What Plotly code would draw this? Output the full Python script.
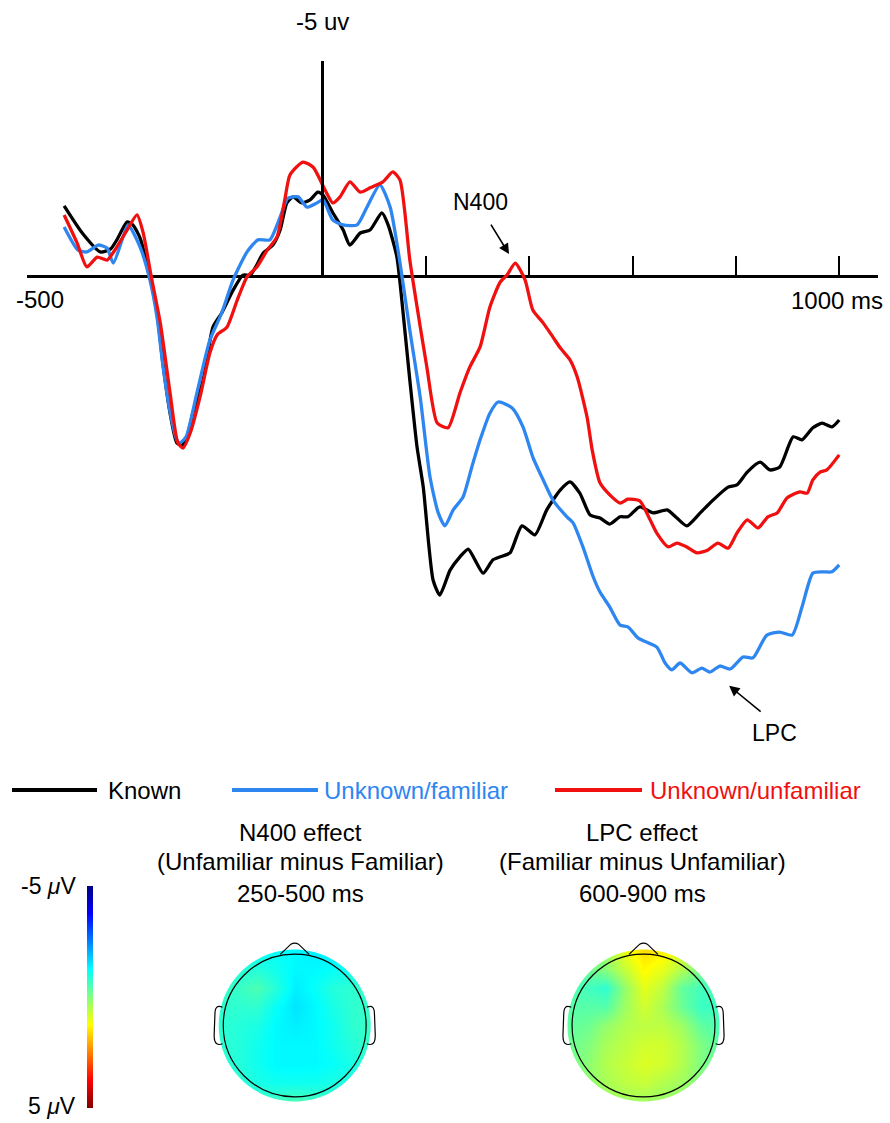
import math
import plotly.graph_objects as go

# ---------------- ERP waveform data (ms, microvolts; negative plotted up) ----------------
known_ms = [-500,-465,-430,-410,-398,-378,-367,-353,-334,-320,-309,-295,-282,-272,-262,-251,-231,-212,-195,-173,
            -154,-140,-127,-115,-96,-82,-69,-57,-40,-24,-9,1,20,40,53,73,92,115,127,144,
            156,169,183,195,214,227,247,266,282,295,311,330,349,363,386,411,434,460,479,498,
            518,537,556,576,591,614,640,667,686,705,731,756,785,802,822,847,866,885,911,928,
            949,967,986,1000]
known_uv = [-1.63,-1.0,-0.56,-0.63,-0.84,-1.26,-1.19,-0.88,0.02,0.86,2.02,3.19,3.88,3.93,3.74,3.19,2.42,1.19,0.86,0.33,
            -0.02,-0.02,-0.26,-0.53,-0.72,-1.07,-1.70,-1.84,-1.70,-1.77,-1.95,-1.88,-1.47,-1.07,-0.72,-1.00,-1.07,-1.47,-1.19,-0.44,
            0.86,2.42,3.98,4.91,7.07,7.42,6.84,6.53,6.35,6.60,6.91,6.60,6.51,6.44,5.81,6.02,5.44,4.98,4.79,5.05,
            5.56,5.63,5.77,5.60,5.60,5.37,5.51,5.44,5.63,5.81,5.51,5.21,4.91,4.86,4.56,4.33,4.51,4.44,3.74,3.81,
            3.53,3.42,3.51,3.35]

fam_ms = [-500,-473,-456,-434,-417,-405,-386,-376,-353,-334,-320,-309,-295,-282,-276,-264,-243,-218,-195,-173,
          -146,-125,-102,-82,-67,-47,-30,-11,1,20,40,67,86,111,131,150,169,189,208,224,
          237,253,272,289,305,324,340,367,388,407,427,446,473,485,504,524,537,556,576,591,
          611,647,663,676,692,715,734,750,769,789,814,833,860,885,909,928,949,969,986,1000]
fam_uv = [-1.14,-0.60,-0.56,-0.72,-0.65,-0.30,-0.91,-1.19,-0.67,0.09,0.98,2.07,3.16,3.81,3.88,3.74,2.72,1.49,0.86,0.09,
          -0.56,-0.84,-0.84,-1.37,-1.81,-1.84,-1.60,-1.70,-1.77,-1.30,-1.19,-1.19,-1.60,-2.12,-1.60,-0.30,1.26,2.81,4.67,5.51,
          5.81,5.44,5.14,4.44,3.81,3.19,2.93,3.07,3.51,4.21,4.74,5.21,5.60,5.74,6.30,7.00,7.35,7.70,8.12,8.16,
          8.42,8.63,9.00,9.16,9.00,9.23,9.12,9.21,9.07,9.14,8.86,8.88,8.35,8.28,8.35,7.70,6.91,6.88,6.88,6.72]

unf_ms = [-500,-475,-456,-436,-417,-402,-378,-359,-347,-332,-314,-295,-280,-270,-256,-237,-218,-204,-185,-165,
          -146,-127,-107,-88,-73,-63,-38,-18,5,20,34,53,73,92,117,136,150,169,183,202,
          222,243,266,285,305,324,344,357,373,392,407,427,446,460,479,493,512,522,537,556,
          576,591,614,634,647,669,686,705,725,746,765,785,802,822,843,862,880,899,924,938,
          949,963,976,1000]
unf_uv = [-1.42,-0.77,-0.21,-0.44,-0.37,-0.60,-1.07,-1.42,-1.00,-0.02,1.09,2.72,3.88,4.00,3.65,2.81,1.79,1.37,1.19,0.56,
          0.02,-0.21,-0.60,-0.91,-1.77,-2.35,-2.65,-2.53,-2.00,-1.70,-1.84,-2.19,-1.95,-2.05,-2.19,-2.42,-2.23,-0.37,0.72,2.12,
          3.42,3.53,2.72,2.12,1.65,0.72,0.14,-0.02,-0.30,0.09,0.79,1.09,1.42,1.67,1.95,2.35,3.28,4.05,4.81,5.09,
          5.28,5.19,5.23,5.67,5.98,6.30,6.21,6.30,6.44,6.37,6.21,6.33,5.98,5.67,5.86,5.60,5.51,5.16,5.02,5.05,
          4.74,4.56,4.51,4.16]

series_names = ["Known", "Unknown/familiar", "Unknown/unfamiliar"]
tick_ms = [200, 400, 600, 800, 1000]

# ---------------- Topographic maps (microvolts on a coarse scalp grid, front = top) ----------------
grid_x = [-1.0, -0.75, -0.5, -0.25, 0.0, 0.25, 0.5, 0.75, 1.0]
grid_y = [1.0, 0.75, 0.5, 0.25, 0.0, -0.25, -0.5, -0.75, -1.0]
n400_topo = [
    [-0.9, -1.0, -1.1, -1.2, -1.3, -1.4, -1.4, -1.3, -1.2],
    [-0.9, -0.9, -0.9, -1.1, -1.3, -1.3, -1.2, -1.1, -1.0],
    [-0.8, -0.7, -0.5, -0.9, -1.4, -1.2, -0.9, -0.8, -0.8],
    [-0.8, -0.8, -0.8, -1.2, -1.5, -1.3, -1.0, -0.8, -0.7],
    [-0.8, -0.9, -1.0, -1.3, -1.4, -1.3, -1.1, -0.8, -0.7],
    [-0.8, -0.9, -1.1, -1.3, -1.3, -1.3, -1.1, -0.9, -0.7],
    [-0.8, -0.9, -1.1, -1.3, -1.3, -1.3, -1.2, -1.0, -0.8],
    [-0.8, -0.8, -1.0, -1.1, -1.1, -1.1, -1.0, -0.9, -0.8],
    [-0.7, -0.7, -0.7, -0.6, -0.5, -0.6, -0.7, -0.7, -0.7],
]
lpc_topo = [
    [-0.2, -0.1, 0.3, 1.1, 1.6, 1.4, 0.9, 0.2, -0.2],
    [-0.3, -0.2, 0.1, 0.7, 1.3, 1.0, 0.5, -0.1, -0.3],
    [-0.4, -0.6, -0.8, 0.2, 1.0, 0.6, -0.3, -0.6, -0.5],
    [-0.4, -0.4, -0.4, 0.3, 0.8, 0.4, -0.2, -0.7, -0.6],
    [-0.3, -0.2, 0.2, 0.5, 0.6, 0.6, 0.3, -0.3, -0.5],
    [-0.2, 0.0, 0.4, 0.6, 0.8, 0.8, 0.5, 0.0, -0.4],
    [-0.1, 0.1, 0.5, 0.7, 0.9, 0.8, 0.5, 0.0, -0.3],
    [0.0, 0.1, 0.4, 0.6, 0.7, 0.5, 0.3, 0.0, -0.2],
    [0.0, 0.1, 0.2, 0.3, 0.3, 0.2, 0.1, 0.0, -0.1],
]
topo_titles = [["N400 effect", "(Unfamiliar minus Familiar)", "250-500 ms"],
               ["LPC effect", "(Familiar minus Unfamiliar)", "600-900 ms"]]
scale_labels = ["-5 <i>\u03bc</i>V", "5 <i>\u03bc</i>V"]
scale_limits = [-5, 5]

# ---------------- styling ----------------
W, H = 890, 1123
FONT = "Liberation Sans, Arial, Helvetica, sans-serif"
BLACK = "#000000"
BLUE = "#2E86F0"
RED = "#F01010"
colors = [BLACK, BLUE, RED]

def px(x):
    return x / W

def py(y):
    return 1 - y / H

# jet colourscale, reversed so that -5 uV (dark blue) sits on top of the colour bar
jet_rev = [[0.0, "rgb(128,0,0)"], [0.125, "rgb(255,0,0)"], [0.375, "rgb(255,255,0)"],
           [0.5, "rgb(128,255,128)"], [0.625, "rgb(0,255,255)"], [0.875, "rgb(0,0,255)"],
           [1.0, "rgb(0,0,131)"]]

fig = go.Figure()

for xs, ys, nm, c in zip([known_ms, fam_ms, unf_ms], [known_uv, fam_uv, unf_uv], series_names, colors):
    fig.add_trace(go.Scatter(x=xs, y=ys, mode="lines", name=nm,
                             line=dict(color=c, width=3.3, shape="spline", smoothing=0.6),
                             showlegend=False, xaxis="x", yaxis="y"))

# topo heatmaps
for i, (topo, xa, ya) in enumerate([(n400_topo, "x2", "y2"), (lpc_topo, "x3", "y3")]):
    fig.add_trace(go.Heatmap(
        x=grid_x, y=grid_y, z=[[-v for v in row] for row in topo],
        zmin=-scale_limits[1], zmax=-scale_limits[0], zsmooth="best",
        colorscale=jet_rev, showscale=(i == 0),
        colorbar=dict(thickness=6, len=222, lenmode="pixels", x=px(87), xanchor="left",
                      y=py(997), yanchor="middle", outlinewidth=0, xpad=0, ypad=0,
                      ticks="", showticklabels=False),
        xaxis=xa, yaxis=ya, hoverinfo="skip"))

# ERP axes geometry: 0 ms at px 322.5, 0.5167 px per ms; 0 uV at py 276, 43 px per uV
x_lo = (27 - 322.5) / 0.5167
x_hi = (878 - 322.5) / 0.5167
y_top = (0 - 276) / 43.0
y_bot = (760 - 276) / 43.0

head_r = 1.25
heads = [(294.7, 1025.5), (643.5, 1025.5)]

layout = dict(
    width=W, height=H, margin=dict(l=0, r=0, t=0, b=0),
    paper_bgcolor="white", plot_bgcolor="white", showlegend=False,
    font=dict(family=FONT, size=24, color=BLACK),
    xaxis=dict(domain=[px(27), px(878)], range=[x_lo, x_hi], showgrid=False, zeroline=False,
               showline=False, anchor="free", position=py(276), side="bottom",
               ticks="inside", ticklen=20, tickwidth=2, tickcolor=BLACK,
               tickvals=tick_ms, showticklabels=False, fixedrange=True),
    yaxis=dict(domain=[py(760), 1], range=[y_bot, y_top], showgrid=False, zeroline=True,
               zerolinecolor=BLACK, zerolinewidth=3, showline=False, showticklabels=False,
               ticks="", fixedrange=True),
)
for k, (cx, cy) in enumerate(heads):
    xa = "xaxis%d" % (k + 2)
    ya = "yaxis%d" % (k + 2)
    layout[xa] = dict(domain=[px(cx - 95), px(cx + 95)], range=[-head_r, head_r], visible=False,
                      anchor="y%d" % (k + 2), fixedrange=True)
    layout[ya] = dict(domain=[py(cy + 95), py(cy - 95)], range=[-head_r, head_r], visible=False,
                      anchor="x%d" % (k + 2), fixedrange=True)
fig.update_layout(**layout)

shapes = []
# vertical axis at 0 ms up to -5 uV
shapes.append(dict(type="line", xref="x", yref="y", x0=0, x1=0, y0=0, y1=-5,
                   line=dict(color=BLACK, width=3)))

# legend lines
for c, (a, b) in zip(colors, [(12, 97), (232, 318), (555, 642)]):
    shapes.append(dict(type="line", xref="paper", yref="paper", x0=px(a), x1=px(b),
                       y0=py(790), y1=py(790), line=dict(color=c, width=4)))

# head masks and outlines
n = 120
circ = " ".join("L%.4f,%.4f" % (1.0 * math.cos(2 * math.pi * t / n), 1.0 * math.sin(2 * math.pi * t / n))
                for t in range(1, n))
mask_path = "M-1.6,-1.6 L1.6,-1.6 L1.6,1.6 L-1.6,1.6 Z M1,0 " + circ + " Z"
for k in range(2):
    xr, yr = "x%d" % (k + 2), "y%d" % (k + 2)
    shapes.append(dict(type="path", xref=xr, yref=yr, path=mask_path, fillcolor="white",
                       fillrule="evenodd", line=dict(width=0), layer="above"))
    shapes.append(dict(type="circle", xref=xr, yref=yr, x0=-0.94, x1=0.94, y0=-0.94, y1=0.94,
                       line=dict(color=BLACK, width=1.2), layer="above"))
    shapes.append(dict(type="path", xref=xr, yref=yr,
                       path="M-0.19,0.935 L-0.05,1.07 Q0,1.1 0.05,1.07 L0.19,0.935",
                       line=dict(color=BLACK, width=1.2), layer="above"))
    for s in (-1, 1):
        ear = ("M%.3f,0.24 C%.3f,0.27 %.3f,0.24 %.3f,0.14 L%.3f,-0.13 C%.3f,-0.26 %.3f,-0.26 %.3f,-0.24"
               % (s * 0.95, s * 1.02, s * 1.05, s * 1.05, s * 1.06, s * 1.06, s * 1.0, s * 0.95))
        shapes.append(dict(type="path", xref=xr, yref=yr, path=ear,
                           line=dict(color=BLACK, width=1.2), layer="above"))
fig.update_layout(shapes=shapes)

ann = []
def text(x, y, t, xref="paper", yref="paper", xanchor="center", color=BLACK, size=24):
    ann.append(dict(x=x, y=y, xref=xref, yref=yref, text=t, showarrow=False, xanchor=xanchor,
                    yanchor="middle", font=dict(family=FONT, size=size, color=color)))

# axis labels
text(0, -5.93, "-5 uv", xref="x", yref="y", size=24)
text(px(40), py(299), "-500", size=24)
text(px(837), py(300), "1000 ms", size=24)
# component labels and arrows
text(305, -1.72, "N400", xref="x", yref="y", size=23)
text(874, 10.63, "LPC", xref="x", yref="y", size=23)
for (hx, hy, ax, ay) in [(361, -0.51, -19, -31), (787, 9.53, 33, 27)]:
    ann.append(dict(x=hx, y=hy, xref="x", yref="y", text="", showarrow=True, ax=ax, ay=ay,
                    arrowhead=2, arrowsize=1.3, arrowwidth=1.6, arrowcolor=BLACK))
# legend texts
for nm, c, x0 in zip(series_names, colors, [106, 322, 648]):
    text(px(x0), py(790), nm, xanchor="left", color=c, size=24)
# topo titles
for (cx, lines) in zip([300, 642], topo_titles):
    for ln, yy in zip(lines, [832, 861, 893]):
        text(px(cx), py(yy), ln, size=24)
# colour-bar labels
for lab, yy in zip(scale_labels, [886, 1106]):
    ann.append(dict(x=px(78), y=py(yy), xref="paper", yref="paper", text=lab, showarrow=False,
                    xanchor="right", yanchor="middle", font=dict(family=FONT, size=23, color=BLACK)))
fig.update_layout(annotations=ann)

fig.write_html("out.html", config={"displayModeBar": False})
